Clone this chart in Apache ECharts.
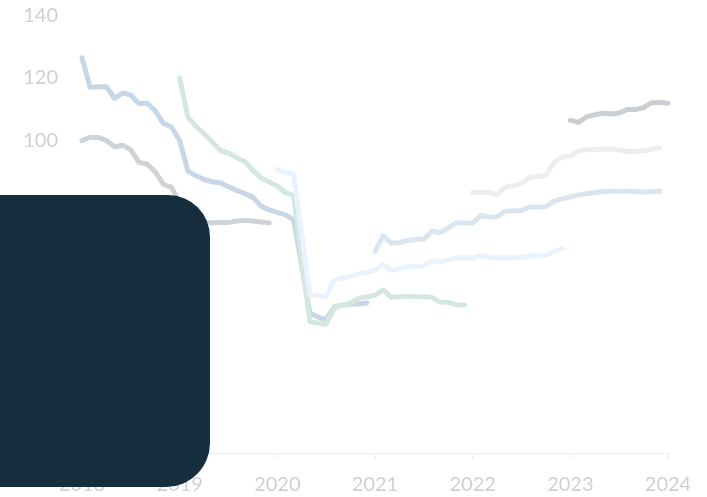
<!DOCTYPE html>
<html>
<head>
<meta charset="utf-8">
<script src="https://cdn.jsdelivr.net/npm/echarts@6/dist/echarts.min.js"></script>
<style>
  html, body { margin: 0; padding: 0; background: #ffffff; }
  #chart { width: 707px; height: 497px; }
</style>
</head>
<body>
<div id="chart"></div>
<script>
// Year tick labels along the bottom axis
const yearLabels = ['2018', '2019', '2020', '2021', '2022', '2023', '2024'];

// Monthly index values, one run per cohort
const cohort2018a = [100, 101, 101, 100, 98, 98.5, 97, 93, 92.5, 90, 86, 85,
  80, 76.5, 74.5, 74, 73.6, 73.8, 73.8, 74.2, 74.5, 74.2, 73.9, 73.6];
const cohort2018b = [126.5, 117, 117.2, 117.2, 113.5, 115.2, 114.5, 111.8, 112, 109.5, 105.5, 104.3,
  100, 90.3, 88.7, 87.5, 86.8, 86.5, 85.2, 84, 83, 81.8, 79, 77.8,
  77, 76.2, 74.6, 60, 44.8, 43.5, 42.7, 46.8, 47.3, 47.6, 47.7, 48];
const cohort2019 = [120, 107.5, 104.5, 102.2, 99.5, 96.8, 96, 94.5, 93.3, 90.5, 88, 86.7,
  85.4, 83.3, 82.5, 62, 42, 41.6, 41.2, 46.3, 47.3, 48, 49.5, 50,
  50.5, 52.2, 49.8, 50, 50.2, 50, 50, 49.8, 48.3, 48.2, 47.4, 47.4];
const cohort2020 = [90.8, 89.8, 89.2, 70, 50.6, 50.3, 50.1, 55.4, 56, 56.5, 57.3, 57.8,
  58.5, 60.3, 58.3, 59, 59.6, 59.7, 59.8, 61.5, 61.3, 61.8, 62.4, 62.4,
  62.4, 63.1, 62.7, 62.4, 62.4, 62.4, 62.5, 63.1, 63.1, 63.2, 64.4, 65.5];
const cohort2021 = [64.5, 69.5, 67.2, 67.3, 68, 68.3, 68.5, 71, 70.5, 72, 73.7, 73.6,
  73.6, 76, 75.5, 75.6, 77.4, 77.5, 77.5, 78.7, 78.7, 78.8, 80.6, 81.3,
  82, 82.6, 83, 83.3, 83.7, 83.8, 83.8, 83.8, 83.7, 83.5, 83.6, 83.8];
const cohort2022 = [83.4, 83.4, 83.3, 82.7, 85, 85.6, 86.2, 88.2, 88.5, 88.8, 93, 94.7,
  95, 96.6, 97, 97.1, 97.2, 97.3, 97, 96.5, 96.5, 96.7, 97.2, 97.6];
const cohort2023 = [106.5, 105.8, 107.6, 108.2, 108.7, 108.5, 108.8, 109.9, 109.9, 110.5, 112.1, 112.2, 111.9];

// Month slot where each run begins (0 = Jan 2018)
const cohortStart = [0, 0, 12, 24, 36, 48, 60];
const cohortNames = ['2018 A', '2018 B', '2019', '2020', '2021', '2022', '2023'];
const cohortColors = ['#ced3d7', '#c8d7e7', '#d4e8df', '#e9f3fd', '#dae5ef', '#eeeeee', '#cbcfd2'];
const cohortValues = [cohort2018a, cohort2018b, cohort2019, cohort2020, cohort2021, cohort2022, cohort2023];

// Monthly category slots, Jan 2018 .. Jan 2024
const months = [];
yearLabels.forEach((y, yi) => {
  const count = yi === yearLabels.length - 1 ? 1 : 12;
  for (let m = 1; m <= count; m++) months.push(y + '-' + String(m).padStart(2, '0'));
});

function padded(start, values) {
  const out = new Array(months.length).fill(null);
  values.forEach((v, i) => { out[start + i] = v; });
  return out;
}

const series = cohortValues.map((vals, k) => ({
  name: cohortNames[k],
  type: 'line',
  data: padded(cohortStart[k], vals),
  showSymbol: false,
  symbol: 'none',
  connectNulls: false,
  smooth: false,
  lineStyle: { color: cohortColors[k], width: 5, cap: 'round', join: 'round' },
  itemStyle: { color: cohortColors[k] },
  emphasis: { disabled: true },
  z: 2 + k
}));

const chart = echarts.init(document.getElementById('chart'), null, { renderer: 'canvas' });
chart.setOption({
  animation: false,
  backgroundColor: '#ffffff',
  grid: { left: 82, right: 39, top: 15.5, bottom: 44, containLabel: false },
  xAxis: {
    type: 'category',
    data: months,
    boundaryGap: false,
    axisLine: { show: true, lineStyle: { color: '#f1f1f1', width: 1 } },
    axisTick: {
      show: true,
      length: 6,
      interval: (i) => i % 12 === 0,
      lineStyle: { color: '#eeeeee' }
    },
    axisLabel: {
      interval: (i) => i % 12 === 0,
      formatter: (v) => v.slice(0, 4),
      color: '#d0d0d0',
      fontFamily: 'Lato',
      fontSize: 20,
      margin: 22
    },
    splitLine: { show: false }
  },
  yAxis: {
    type: 'value',
    min: 0,
    max: 140,
    interval: 20,
    axisLine: { show: false },
    axisTick: { show: false },
    splitLine: { show: false },
    axisLabel: {
      color: '#d0d0d0',
      fontFamily: 'Lato',
      fontSize: 20,
      margin: 24,
      formatter: (v) => (v === 0 ? '' : String(v))
    }
  },
  series: series,
  graphic: [{
    type: 'rect',
    z: 100,
    shape: { x: 0, y: 195, width: 210, height: 292, r: [0, 42, 44, 0] },
    style: { fill: '#162d3e' }
  }]
});
</script>
</body>
</html>
